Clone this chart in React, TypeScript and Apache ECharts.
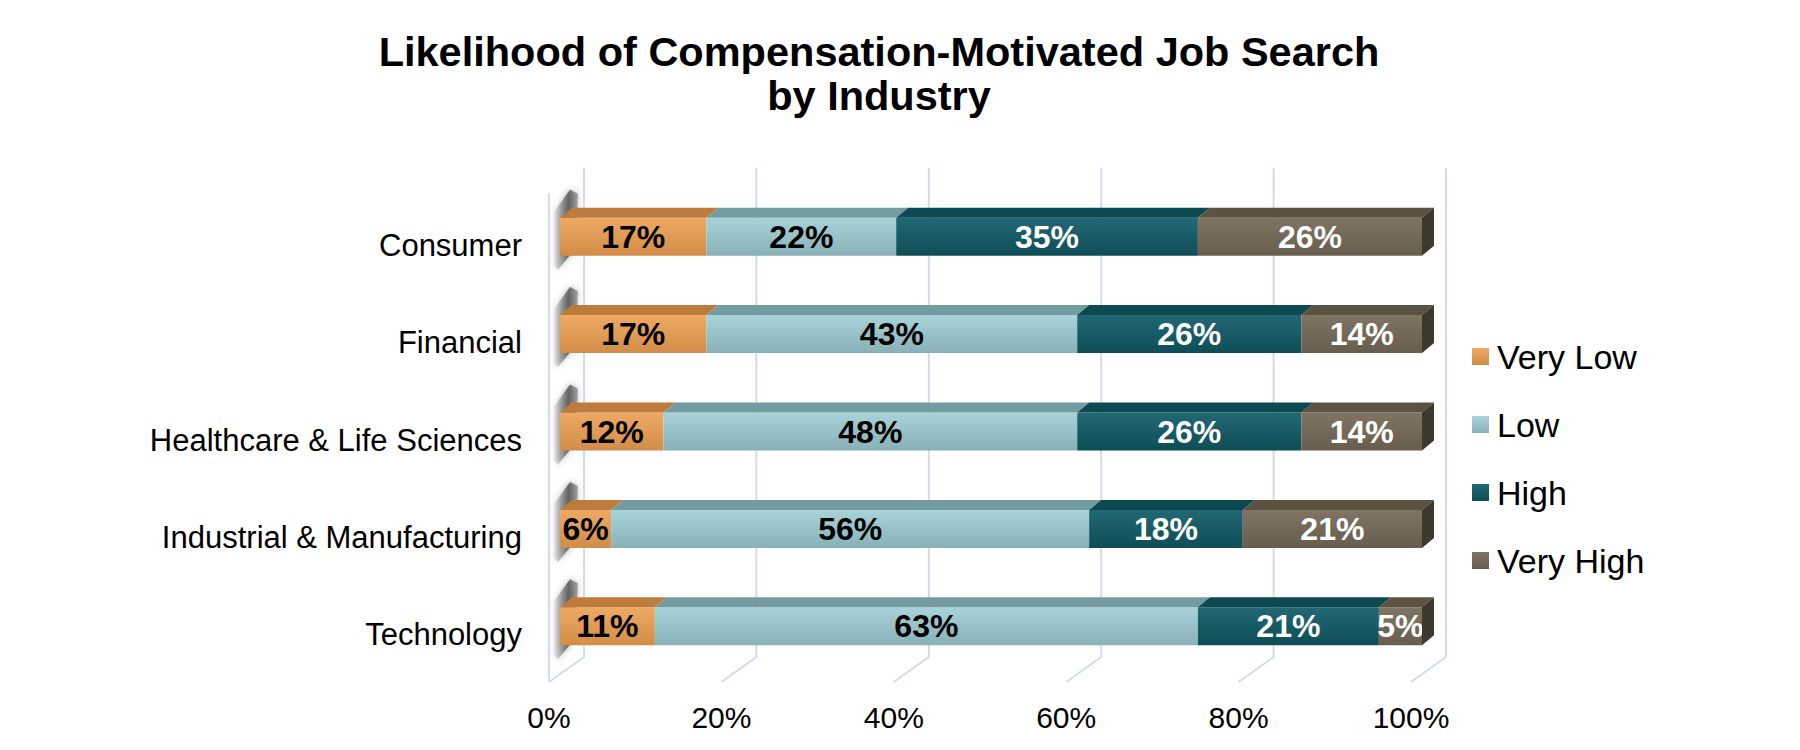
import React, { useEffect, useRef } from "react";
import * as echarts from "echarts";

const categories = [
  "Consumer",
  "Financial",
  "Healthcare & Life Sciences",
  "Industrial & Manufacturing",
  "Technology",
];
const levels = ["Very Low", "Low", "High", "Very High"];
const veryLow = [17, 17, 12, 6, 11];
const low = [22, 43, 48, 56, 63];
const high = [35, 26, 26, 18, 21];
const veryHigh = [26, 14, 14, 21, 5];
const xTicks = [0, 20, 40, 60, 80, 100];

const FONT = "'Liberation Sans', Arial, Helvetica, sans-serif";
const frontColors = [
  ["#EEAA64", "#D28C49"],
  ["#A8D3D8", "#88B1B7"],
  ["#226874", "#0E4D56"],
  ["#807564", "#675D4D"],
];
const topColors = ["#BE7C3C", "#739CA1", "#0D4950", "#5B5242"];
const sideColor = "#3E392D";
const labelColors = ["#000000", "#000000", "#FFFFFF", "#FFFFFF"];
const DX = 12;
const DY = 10;
const HALF = 19;

export default function App() {
  const ref = useRef<HTMLDivElement>(null);

  useEffect(() => {
    if (!ref.current) return;
    const chart = echarts.init(ref.current, null, { renderer: "svg" });
    const raw = [veryLow, low, high, veryHigh];
    const sums = categories.map((_, i) => raw.reduce((a, s) => a + s[i], 0));
    const norm = raw.map((s) => s.map((v, i) => (v / sums[i]) * 100));

    const topData: number[][] = [];
    categories.forEach((_, r) => {
      let acc = 0;
      norm.forEach((s, k) => {
        topData.push([acc, r, acc + s[r], k]);
        acc += s[r];
      });
    });

    const barSeries = levels.map((name, k) => ({
      type: "bar",
      name,
      stack: "total",
      barWidth: 38,
      z: 3,
      silent: true,
      data: norm[k],
      itemStyle: {
        color: new echarts.graphic.LinearGradient(0, 0, 0, 1, [
          { offset: 0, color: frontColors[k][0] },
          { offset: 1, color: frontColors[k][1] },
        ]),
      },
      label: {
        show: true,
        position: "inside",
        formatter: (p: any) => raw[k][p.dataIndex] + "%",
        fontSize: 32,
        fontWeight: "bold",
        fontFamily: FONT,
        color: labelColors[k],
      },
    }));

    const option: any = {
      animation: false,
      backgroundColor: "#ffffff",
      grid: {
        left: 560,
        top: 188,
        width: 862,
        height: 487,
        containLabel: false,
        outerBoundsMode: "none",
      },
      xAxis: {
        type: "value",
        min: 0,
        max: 100,
        interval: 20,
        axisLine: { show: false },
        axisTick: { show: false },
        splitLine: { show: false },
        axisLabel: {
          formatter: "{value}%",
          fontSize: 30,
          lineHeight: 30,
          fontFamily: FONT,
          color: "#000",
          margin: 27,
          padding: [0, 22, 0, 0],
        },
      },
      yAxis: {
        type: "category",
        data: categories,
        inverse: true,
        axisLine: { show: false },
        axisTick: { show: false },
        splitLine: { show: false },
        axisLabel: {
          fontSize: 31,
          fontFamily: FONT,
          color: "#000",
          margin: 38,
          verticalAlign: "top",
          lineHeight: 17,
        },
      },
      legend: {
        data: levels,
        orient: "vertical",
        left: 1467,
        top: 333,
        itemWidth: 17,
        itemHeight: 17,
        itemGap: 31,
        icon: "rect",
        selectedMode: false,
        textStyle: {
          fontSize: 34,
          lineHeight: 37,
          fontFamily: FONT,
          color: "#000",
          padding: [0, 0, 0, 3],
        },
      },
      graphic: [
        {
          type: "text",
          x: 879,
          y: 29,
          style: {
            text: "Likelihood of Compensation-Motivated Job Search\nby Industry",
            align: "center",
            verticalAlign: "top",
            fontSize: 41.5,
            fontWeight: "bold",
            fontFamily: FONT,
            lineHeight: 44,
            fill: "#000",
          },
        },
      ],
      series: [
        {
          type: "custom",
          name: "walls",
          silent: true,
          z: 1,
          data: xTicks.map((v) => [v, 0]),
          renderItem: (params: any, api: any) => {
            const v = api.value(0);
            const x = api.coord([v, 0])[0];
            const cs = params.coordSys;
            const top = cs.y;
            const bottom = cs.y + cs.height;
            const children: any[] = [
              {
                type: "polyline",
                shape: {
                  points: [
                    [x + 24, top - 20],
                    [x + 24, bottom - 18],
                    [x - 11, bottom + 7],
                  ],
                },
                style: { stroke: "#D3DCEA", lineWidth: 2, fill: null },
              },
            ];
            if (v === 0) {
              children.push({
                type: "line",
                shape: { x1: x - 11, y1: top + 5, x2: x - 11, y2: bottom + 7 },
                style: { stroke: "#D3DCEA", lineWidth: 2 },
              });
            }
            return { type: "group", children };
          },
        },
        {
          type: "custom",
          name: "shadows",
          silent: true,
          z: 2,
          data: categories.map((_, r) => [0, r]),
          renderItem: (params: any, api: any) => {
            const p = api.coord([api.value(0), api.value(1)]);
            const x = p[0];
            const yT = p[1] - HALF;
            const yB = p[1] + HALF;
            return {
              type: "polygon",
              shape: {
                points: [
                  [x - 6, yT - 6],
                  [x + 10, yT - 28],
                  [x + 18, yT - 24],
                  [x + 16, yB - 8],
                  [x - 2, yB + 14],
                  [x - 6, yB + 10],
                ],
              },
              style: {
                fill: new echarts.graphic.LinearGradient(0, 0, 1, 0, [
                  { offset: 0, color: "rgba(120,120,120,0.1)" },
                  { offset: 0.6, color: "rgba(85,85,85,0.85)" },
                  { offset: 1, color: "rgba(100,100,100,0.45)" },
                ]),
                shadowBlur: 6,
                shadowColor: "rgba(70,70,70,0.6)",
              },
            };
          },
        },
        ...barSeries,
        {
          type: "custom",
          name: "tops",
          silent: true,
          z: 4,
          data: topData,
          renderItem: (params: any, api: any) => {
            const s = api.value(0);
            const r = api.value(1);
            const e = api.value(2);
            const k = api.value(3);
            const p0 = api.coord([s, r]);
            const p1 = api.coord([e, r]);
            const yT = p0[1] - HALF;
            const yB = p0[1] + HALF;
            const children: any[] = [
              {
                type: "polygon",
                shape: {
                  points: [
                    [p0[0], yT],
                    [p1[0], yT],
                    [p1[0] + DX, yT - DY],
                    [p0[0] + DX, yT - DY],
                  ],
                },
                style: { fill: topColors[k] },
              },
            ];
            if (k === levels.length - 1) {
              children.push({
                type: "polygon",
                shape: {
                  points: [
                    [p1[0], yT],
                    [p1[0] + DX, yT - DY],
                    [p1[0] + DX, yB - DY],
                    [p1[0], yB],
                  ],
                },
                style: { fill: sideColor },
              });
            }
            return { type: "group", children };
          },
        },
      ],
    };

    chart.setOption(option);
    return () => chart.dispose();
  }, []);

  return (
    <div
      ref={ref}
      style={{
        position: "fixed",
        left: 0,
        top: 0,
        width: 1800,
        height: 750,
        background: "#fff",
      }}
    />
  );
}
